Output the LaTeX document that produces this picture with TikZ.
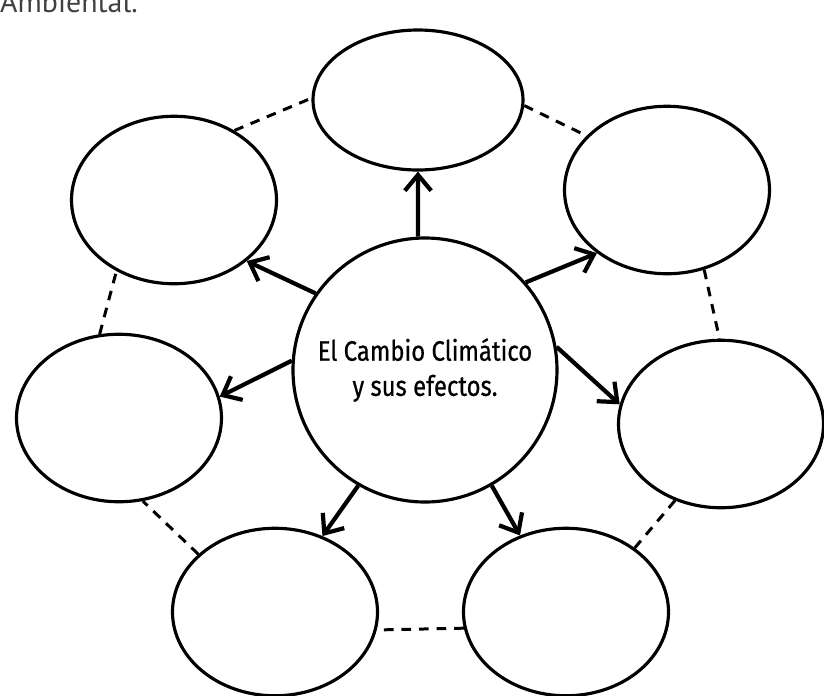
\documentclass[tikz,border=0pt]{standalone}
\usepackage{fontspec}
\setmainfont{PT Sans}
\newfontfamily\temafont[FakeStretch=0.85, FakeBold=0.7]{Fira Sans}
\usetikzlibrary{shapes.geometric, arrows.meta}
\tikzstyle{idea} = [ellipse, minimum width=4.1cm, minimum height=3.35cm, inner sep=0pt, draw=black, line width=1.8pt]
\tikzstyle{tema} = [circle, minimum size=5.28cm, inner sep=0pt, draw=black, line width=1.8pt, align=center, font=\temafont\fontsize{16}{20}\selectfont]
\tikzstyle{arrow} = [line width=2.4pt,-{Straight Barb[length=9pt,width=15pt]}]
\tikzstyle{anillo} = [line width=1.7pt, dash pattern=on 5.5pt off 4.5pt]

\begin{document}
\begin{tikzpicture}[node distance=5cm] % distancia entre el centro y las ideas

    \useasboundingbox (-8.5,-6.5) rectangle (7.98,7.4);

    \node (titulo) [anchor=base west, text=black!75, font=\fontsize{17}{20}\selectfont] at (-8.62,7.16) {Ambiental.};

    \node (centro) [tema] {El Cambio Climático\\y sus efectos.};

    \node (arriba) [idea, above of=centro, xshift=-0.14cm, yshift=0.4cm, minimum width=4.2cm, minimum height=2.8cm] {};
    \node (arribader) [idea, right of=centro, xshift=-0.16cm, yshift=3.6cm] {};
    \node (derecha) [idea, right of=centro, xshift=0.92cm, yshift=-1.08cm] {};
    \node (abajoder) [idea, below of=centro, xshift=2.82cm, yshift=0.16cm] {};
    \node (abajoizq) [idea, below of=centro, xshift=-3cm, yshift=0.16cm] {};
    \node (izquierda) [idea, left of=centro, xshift=-1.12cm, yshift=-0.96cm] {};
    \node (arribaizq) [idea, left of=centro, xshift=-0.02cm, yshift=3.4cm] {};

    % Flechas
    \draw [arrow] (centro.93) -- (arriba.270);
    \draw [arrow] (centro.41) -- (arribader.222);
    \draw [arrow] (centro.10) -- (derecha.169);
    \draw [arrow] (centro.-60) -- (abajoder.121);
    \draw [arrow] (centro.240) -- (abajoizq.58);
    \draw [arrow] (centro.176) -- (izquierda.12);
    \draw [arrow] (centro.145) -- (arribaizq.-40);

    % Anillo punteado
    \draw [anillo] (arribaizq.49) -- (arriba.179);
    \draw [anillo] (arriba.-3) -- (arribader.146);
    \draw [anillo] (arribader.-65) -- (derecha.91);
    \draw [anillo] (derecha.239) -- (abajoder.43);
    \draw [anillo] (abajoder.189) -- (abajoizq.-10);
    \draw [anillo] (abajoizq.143) -- (izquierda.-74);
    \draw [anillo] (izquierda.103) -- (arribaizq.231);
\end{tikzpicture}
\end{document}
